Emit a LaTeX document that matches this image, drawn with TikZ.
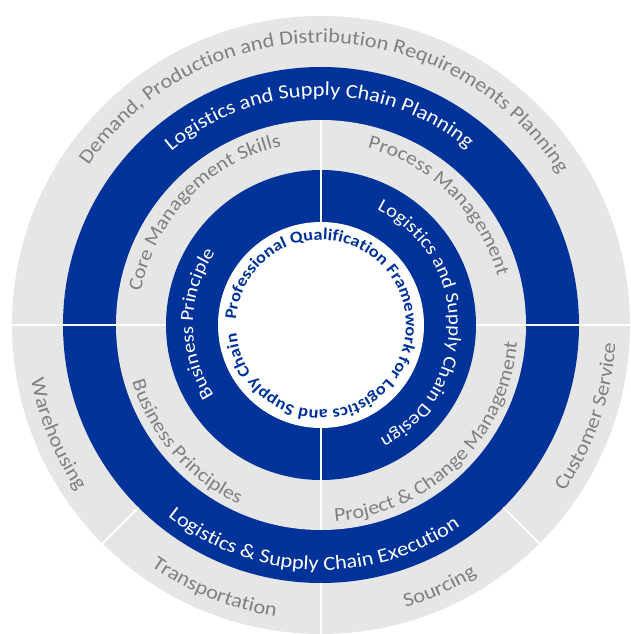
\documentclass[tikz,border=0pt]{standalone}
\usepackage{fontspec}
\usetikzlibrary{decorations.text}
\newfontfamily\lblfont[FakeStretch=1.12]{Carlito}
\definecolor{ringblue}{HTML}{003399}
\definecolor{ringgray}{HTML}{E6E6E6}
\definecolor{txtgray}{HTML}{808080}
% #1 font size, #2 colour, #3 centre angle, #4 baseline radius, #5 direction (1 = clockwise, -1 = counter-clockwise), #6 extra font commands, #7 text
\newcommand\curvedlabel[7]{%
  \pgfmathsetmacro\lbla{#3+(#5)*190}%
  \pgfmathsetmacro\lblb{#3-(#5)*190}%
  \path[decorate,decoration={text along path,text align=center,text color=#2,
     text={|\lblfont#6\fontsize{#1}{#1}\selectfont|#7}}]
     (\lbla:#4) arc[start angle=\lbla,end angle=\lblb,radius=#4];
}
\begin{document}
\begin{tikzpicture}[x=1pt,y=1pt,
  sep/.style={white,line width=2pt}]
\useasboundingbox (-321,-309) rectangle (310,325);
% rings
\fill[ringgray] (0,0) circle[radius=309];
\fill[ringblue] (0,0) circle[radius=258];
\fill[ringgray] (0,0) circle[radius=205];
\fill[ringblue] (0,0) circle[radius=155];
\fill[white]    (0,0) circle[radius=103];
% separators
\draw[sep] (0:155) -- (0:310);
\draw[sep] (180:155) -- (180:310);
\draw[sep] (90:103) -- (90:205);
\draw[sep] (270:103) -- (270:205);
\draw[sep] (270:258) -- (270:310);
\draw[sep] (225:258) -- (225:310);
\draw[sep] (315:258) -- (315:310);
% outer ring
\curvedlabel{20}{txtgray}{89}{282}{1}{}{Demand{,} Production and Distribution Requirements Planning}
\curvedlabel{20}{txtgray}{202.5}{295}{-1}{}{Warehousing}
\curvedlabel{20}{txtgray}{248}{295}{-1}{}{Transportation}
\curvedlabel{20}{txtgray}{294.3}{295}{-1}{}{Sourcing}
\curvedlabel{20}{txtgray}{341}{295}{-1}{}{Customer Service}
% second ring
\curvedlabel{20}{white}{90.5}{229}{1}{}{Logistics and Supply Chain Planning}
\curvedlabel{20}{white}{268}{245}{-1}{}{Logistics {\&} Supply Chain Execution}
% third ring
\curvedlabel{19.5}{txtgray}{136}{183}{1}{}{Core Management Skills}
\curvedlabel{19.5}{txtgray}{45.3}{183}{1}{}{Process Management}
\curvedlabel{19.5}{txtgray}{221}{197}{-1}{}{Business Principles}
\curvedlabel{19.5}{txtgray}{314.5}{197}{-1}{}{Project {\&} Change Management}
% fourth ring
\curvedlabel{18.6}{white}{179.5}{128}{1}{}{Business Principle}
\curvedlabel{18.6}{white}{0.75}{128}{1}{}{Logistics and Supply Chain Design}
% centre
\curvedlabel{16.5}{ringblue}{1}{85}{1}{\bfseries}{Professional Qualification Framework for Logistics and Supply Chain}
\end{tikzpicture}
\end{document}
